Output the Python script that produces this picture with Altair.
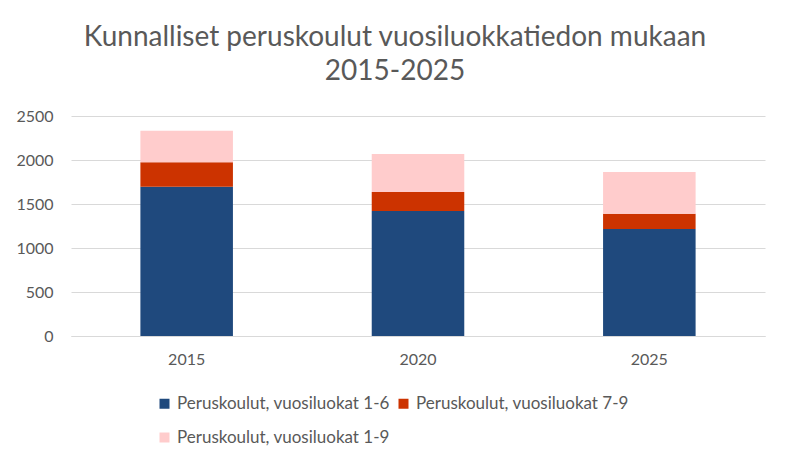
import pandas as pd
import altair as alt

years = ["2015", "2020", "2025"]
series = [
    "Peruskoulut, vuosiluokat 1-6",
    "Peruskoulut, vuosiluokat 7-9",
    "Peruskoulut, vuosiluokat 1-9",
]
colors = ["#1F497D", "#CC3300", "#FFCCCC"]
# legend fills column by column: 1-6 and 1-9 in the first column, 7-9 in the second
legend_order = [series[0], series[2], series[1]]

grades_1_6 = [1697, 1420, 1215]
grades_7_9 = [278, 217, 175]
grades_1_9 = [356, 432, 475]

rows = []
for i, y in enumerate(years):
    for k, (name, vals) in enumerate(zip(series, [grades_1_6, grades_7_9, grades_1_9])):
        rows.append({"vuosi": y, "sarja": name, "arvo": vals[i], "jarjestys": k})
df = pd.DataFrame(rows)

font = "Lato"
grey = "#595959"

chart = (
    alt.Chart(df)
    .mark_bar()
    .encode(
        x=alt.X(
            "vuosi:N",
            title=None,
            sort=years,
            scale=alt.Scale(paddingInner=0.6, paddingOuter=0.3),
            axis=alt.Axis(labelAngle=0, labelPadding=15, ticks=False,
                          domainColor="#d9d9d9", grid=False),
        ),
        y=alt.Y(
            "arvo:Q",
            title=None,
            scale=alt.Scale(domain=[0, 2500]),
            axis=alt.Axis(values=[0, 500, 1000, 1500, 2000, 2500], format="d",
                          ticks=False, domain=False, labelPadding=18,
                          gridColor="#d9d9d9"),
        ),
        color=alt.Color(
            "sarja:N",
            title=None,
            scale=alt.Scale(domain=series, range=colors),
            legend=alt.Legend(
                orient="none", legendX=85, legendY=279, columns=2,
                values=legend_order,
                symbolType="square", symbolSize=100, symbolStrokeWidth=0,
                labelFontSize=17, labelFont=font, labelColor=grey,
                labelOffset=4, columnPadding=5, rowPadding=16, labelLimit=300,
            ),
        ),
        order=alt.Order("jarjestys:Q"),
    )
    .properties(
        width=694,
        height=220,
        padding={"left": 63, "top": 108, "right": 17, "bottom": 120},
        autosize="none",
        title=alt.TitleParams(
            ["Kunnalliset peruskoulut vuosiluokkatiedon mukaan", "2015-2025"],
            fontSize=28, font=font, fontWeight="normal", color=grey,
            lineHeight=34, offset=22, dx=-23,
        ),
    )
    .configure_view(strokeWidth=0)
    .configure_axis(labelFont=font, labelFontSize=16, labelColor=grey)
)

chart.save("out.html", embed_options={"renderer": "svg", "actions": False})
